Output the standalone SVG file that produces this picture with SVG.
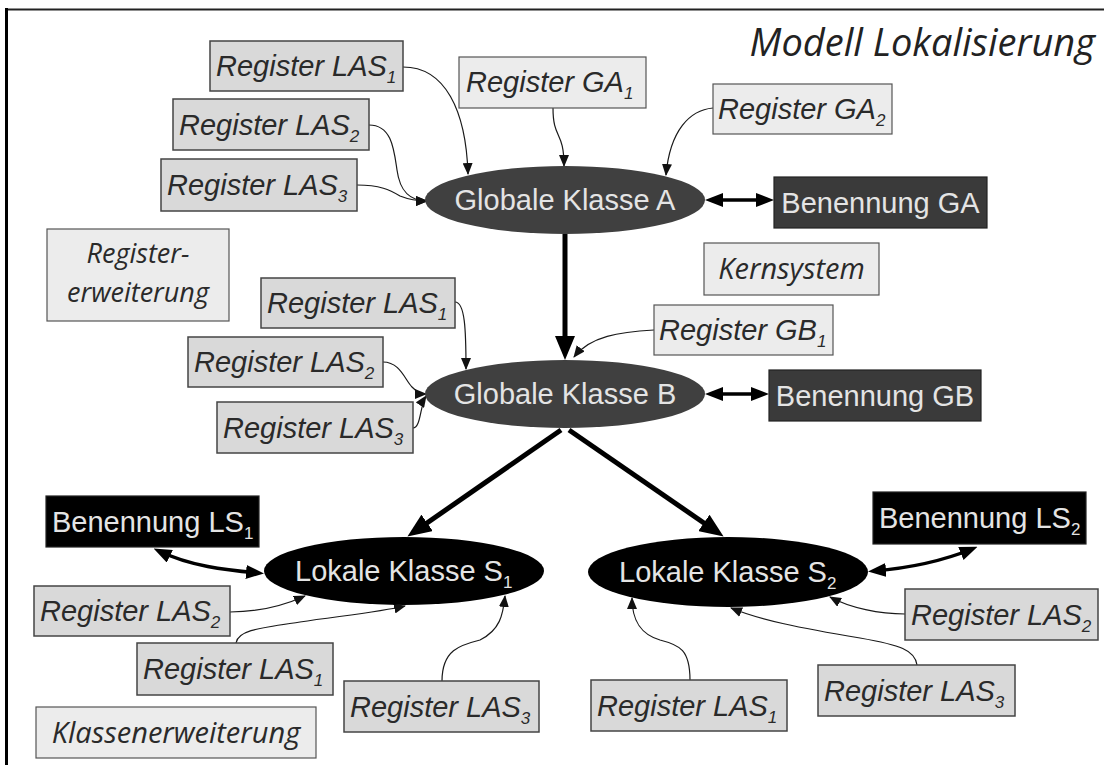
<svg xmlns="http://www.w3.org/2000/svg" width="1104" height="765" viewBox="0 0 1104 765">
<style>
.reg{fill:#d9d9d9;stroke:#444;stroke-width:1.5}
.lt{fill:#ececec;stroke:#555;stroke-width:1.2}
.dk{fill:#3a3a3a;stroke:#222;stroke-width:1.2}
.bk{fill:#000;stroke:#222;stroke-width:1.2}
.el{fill:#404040}
.elb{fill:#000}
.rt{font-family:"Liberation Sans",Arial,sans-serif;font-style:italic;font-size:29px;fill:#2a2a2a}
.nt{font-family:"Liberation Sans",Arial,sans-serif;font-size:29px;fill:#e4e4e4}
.ot{font-family:"Open Sans",sans-serif;font-style:italic;font-size:29px;fill:#2a2a2a}
.sub{font-size:17px}
.thin{fill:none;stroke:#1a1a1a;stroke-width:1.2;marker-end:url(#ah)}
.thick{fill:none;stroke:#000;stroke-width:5;marker-end:url(#big)}
.dbl{fill:none;stroke:#000;stroke-width:3.5;marker-start:url(#mid);marker-end:url(#mid)}
</style>
<defs>
<marker id="ah" viewBox="0 0 12 10" refX="11" refY="5" markerWidth="12" markerHeight="10" markerUnits="userSpaceOnUse" orient="auto"><path d="M0,0L12,5L0,10z" fill="#111"/></marker>
<marker id="big" viewBox="0 0 24 20" refX="16" refY="10" markerWidth="24" markerHeight="20" markerUnits="userSpaceOnUse" orient="auto"><path d="M0,0L24,10L0,20z" fill="#000"/></marker>
<marker id="mid" viewBox="0 0 18 14" refX="12" refY="7" markerWidth="18" markerHeight="14" markerUnits="userSpaceOnUse" orient="auto-start-reverse"><path d="M0,0L18,7L0,14z" fill="#000"/></marker>
</defs>
<rect width="1104" height="765" fill="#fff"/>
<g id="frame">
<line x1="5" y1="9.5" x2="1104" y2="9.5" stroke="#222" stroke-width="2"/>
<line x1="6.5" y1="8" x2="6.5" y2="765" stroke="#000" stroke-width="3"/>
</g>
<text id="title" x="1095" y="56" text-anchor="end" style="font-family:'Open Sans',sans-serif;font-style:italic;font-size:38px;fill:#222">Modell Lokalisierung</text>

<g id="connectors">
<path class="thin" d="M403,67 C445,67 466,110 468,174"/>
<path class="thin" d="M369,125 C392,125 394,150 397,170 C400,192 410,201 427,201"/>
<path class="thin" d="M357,185 C380,185 390,190 400,196 C410,200 418,201 427,201"/>
<path class="thin" d="M553,108 C553,140 564,130 564,166"/>
<path class="thin" d="M713,108 C690,110 670,130 666,175"/>
<path class="dbl" d="M711,200 L768,200"/>
<path class="thick" d="M565,234 L565,352"/>
<path class="thin" d="M654,330 C620,332 590,336 574,357"/>
<path class="thin" d="M455,302 C465,302 466,330 466,369"/>
<path class="thin" d="M383,362 C400,362 405,380 412,387 C417,392 420,394 426,394"/>
<path class="thin" d="M413,428 C421,428 420,405 426,396"/>
<path class="dbl" d="M711,394 L763,394"/>
<path class="thick" d="M561,430 L414,532"/>
<path class="thick" d="M569,430 L717,532"/>
<path class="dbl" d="M159,551 C190,566 225,570 258,573"/>
<path class="dbl" d="M874,571 C910,568 945,560 972,549"/>
<path class="thin" d="M230,612 C260,612 285,605 305,596"/>
<path class="thin" d="M236,643 C238,630 260,628 300,622 C340,616 380,612 405,606"/>
<path class="thin" d="M442,681 C442,650 460,645 480,640 C500,630 503,615 505,596"/>
<path class="thin" d="M905,614 C880,614 850,608 830,597"/>
<path class="thin" d="M917,665 C915,650 900,645 860,638 C800,628 760,620 731,608"/>
<path class="thin" d="M690,680 C690,650 680,645 660,640 C640,634 632,620 632,598"/>
</g>

<g id="las1a"><rect class="reg" x="210" y="41" width="193" height="50"/><text class="rt" x="216" y="76">Register LAS<tspan class="sub" dy="7">1</tspan></text></g>
<g id="las2a"><rect class="reg" x="173" y="99" width="196" height="51"/><text class="rt" x="179" y="135">Register LAS<tspan class="sub" dy="7">2</tspan></text></g>
<g id="las3a"><rect class="reg" x="161" y="159" width="196" height="52"/><text class="rt" x="167" y="195">Register LAS<tspan class="sub" dy="7">3</tspan></text></g>
<g id="ga1"><rect class="lt" x="459" y="57" width="187" height="51"/><text class="rt" x="466" y="92">Register GA<tspan class="sub" dy="7">1</tspan></text></g>
<g id="ga2"><rect class="lt" x="713" y="84" width="179" height="50"/><text class="rt" x="718" y="119">Register GA<tspan class="sub" dy="7">2</tspan></text></g>

<g id="klasseA"><ellipse class="el" cx="565" cy="200" rx="140" ry="34"/><text class="nt" x="565" y="210" text-anchor="middle">Globale Klasse A</text></g>
<g id="benGA"><rect class="dk" x="774" y="177" width="213" height="51"/><text class="nt" x="880.5" y="213" text-anchor="middle">Benennung GA</text></g>

<g id="regerw"><rect class="lt" x="47" y="229" width="182" height="92"/><text class="ot" x="138" y="263" text-anchor="middle" style="font-size:27px">Register-</text><text class="ot" x="138" y="302" text-anchor="middle" style="font-size:27px">erweiterung</text></g>
<g id="kern"><rect class="lt" x="704" y="243" width="175" height="52"/><text class="ot" x="791.5" y="279" text-anchor="middle">Kernsystem</text></g>

<g id="las1b"><rect class="reg" x="261" y="278" width="194" height="50"/><text class="rt" x="267" y="313">Register LAS<tspan class="sub" dy="7">1</tspan></text></g>
<g id="las2b"><rect class="reg" x="188" y="337" width="195" height="50"/><text class="rt" x="194" y="372">Register LAS<tspan class="sub" dy="7">2</tspan></text></g>
<g id="las3b"><rect class="reg" x="217" y="402" width="196" height="51"/><text class="rt" x="223" y="438">Register LAS<tspan class="sub" dy="7">3</tspan></text></g>
<g id="gb1"><rect class="lt" x="654" y="305" width="179" height="50"/><text class="rt" x="659" y="340">Register GB<tspan class="sub" dy="7">1</tspan></text></g>

<g id="klasseB"><ellipse class="el" cx="565" cy="394" rx="140" ry="34"/><text class="nt" x="565" y="404" text-anchor="middle">Globale Klasse B</text></g>
<g id="benGB"><rect class="dk" x="769" y="370" width="212" height="51"/><text class="nt" x="875" y="406" text-anchor="middle">Benennung GB</text></g>

<g id="benLS1"><rect class="bk" x="46" y="496" width="213" height="51"/><text class="nt" x="52" y="532">Benennung LS<tspan class="sub" dy="7">1</tspan></text></g>
<g id="lokS1"><ellipse class="elb" cx="404" cy="571" rx="140" ry="34"/><text class="nt" x="295" y="581">Lokale Klasse S<tspan class="sub" dy="7">1</tspan></text></g>
<g id="lokS2"><ellipse class="elb" cx="728" cy="572" rx="140" ry="35"/><text class="nt" x="619" y="582">Lokale Klasse S<tspan class="sub" dy="7">2</tspan></text></g>
<g id="benLS2"><rect class="bk" x="873" y="492" width="213" height="52"/><text class="nt" x="879" y="528">Benennung LS<tspan class="sub" dy="7">2</tspan></text></g>

<g id="las2c"><rect class="reg" x="34" y="586" width="196" height="50"/><text class="rt" x="40" y="621">Register LAS<tspan class="sub" dy="7">2</tspan></text></g>
<g id="las1c"><rect class="reg" x="137" y="643" width="196" height="52"/><text class="rt" x="143" y="679">Register LAS<tspan class="sub" dy="7">1</tspan></text></g>
<g id="las3c"><rect class="reg" x="344" y="681" width="195" height="51"/><text class="rt" x="350" y="717">Register LAS<tspan class="sub" dy="7">3</tspan></text></g>
<g id="klerw"><rect class="lt" x="36" y="707" width="280" height="51"/><text class="ot" x="176" y="743" text-anchor="middle">Klassenerweiterung</text></g>

<g id="las2d"><rect class="reg" x="905" y="589" width="193" height="51"/><text class="rt" x="911" y="625">Register LAS<tspan class="sub" dy="7">2</tspan></text></g>
<g id="las3d"><rect class="reg" x="818" y="665" width="197" height="51"/><text class="rt" x="824" y="701">Register LAS<tspan class="sub" dy="7">3</tspan></text></g>
<g id="las1d"><rect class="reg" x="591" y="680" width="196" height="51"/><text class="rt" x="597" y="716">Register LAS<tspan class="sub" dy="7">1</tspan></text></g>
</svg>
